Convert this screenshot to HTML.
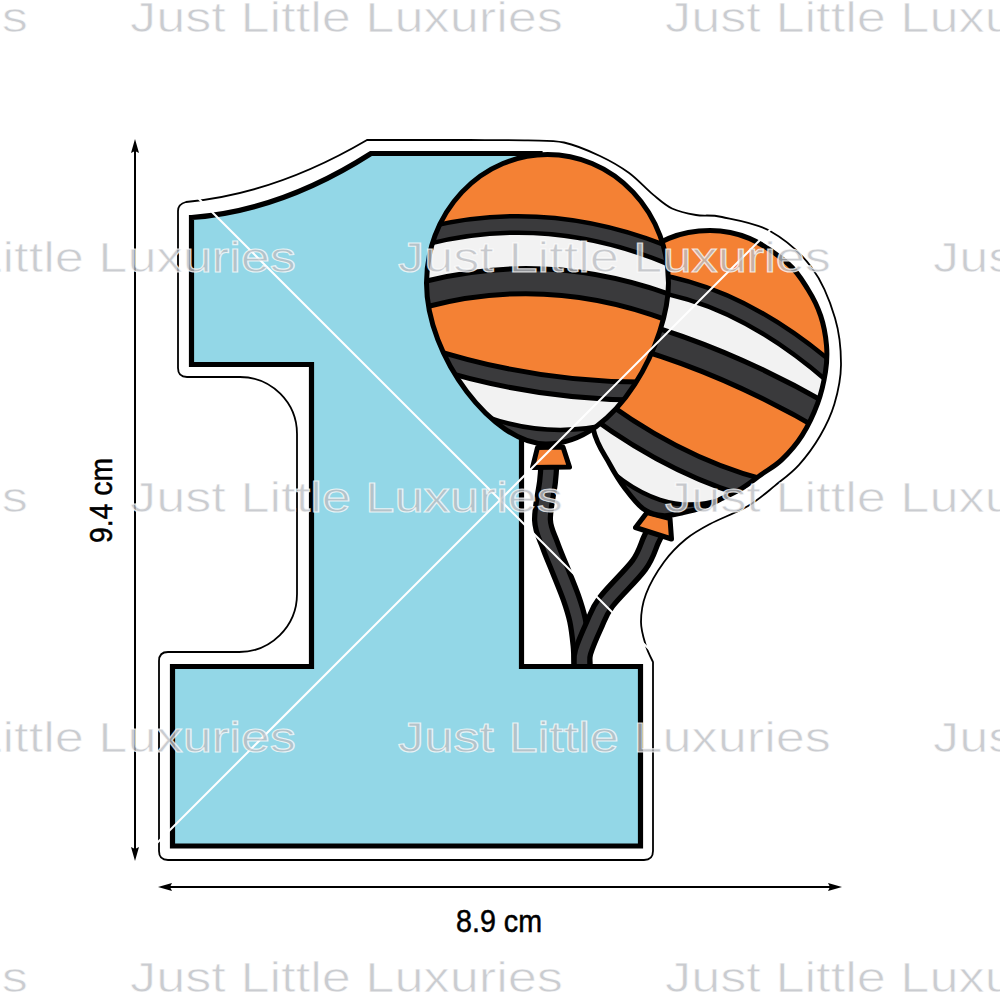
<!DOCTYPE html>
<html><head><meta charset="utf-8">
<style>
html,body{margin:0;padding:0;background:#fff;width:1000px;height:1000px;overflow:hidden}
svg{display:block}
</style></head>
<body>
<svg width="1000" height="1000" viewBox="0 0 1000 1000">
<defs>
<clipPath id="b1c"><path d="M426.5,283 A121,128.5 0 0 1 668.5,283 C668.5,338.9 619.2,444 546,444 C493.9,444 426.5,357.7 426.5,283 Z"/></clipPath>
<clipPath id="b2c"><path d="M683.5,512.5 C689.9,511.2 695.1,510.2 701.2,508.0 C707.3,505.8 713.2,502.7 719.9,499.5 C726.6,496.3 734.5,492.7 741.4,488.6 C748.2,484.5 754.3,479.5 761.0,474.7 C767.7,469.9 774.8,466.4 781.6,459.9 C788.5,453.3 796.1,444.9 802.1,435.4 C808.1,425.9 813.8,413.7 817.7,403.1 C821.6,392.5 824.0,381.3 825.5,371.7 C827.0,362.1 827.3,354.6 826.5,345.3 C825.7,336.0 823.8,325.2 820.7,315.9 C817.6,306.6 813.4,298.1 808.0,289.5 C802.6,280.9 798.2,272.5 788.4,264.0 C778.6,255.5 762.4,244.0 749.3,238.4 C736.2,232.8 723.4,230.5 710.0,230.5 C696.6,230.5 681.9,232.8 668.8,238.4 C655.7,244.0 642.7,251.8 631.6,263.9 C620.5,276.0 609.1,293.4 602.3,311.0 C595.4,328.6 592.0,350.2 590.5,369.8 C589.0,389.4 590.0,413.0 593.2,428.7 C596.4,444.4 604.4,454.2 609.8,464.2 C615.2,474.2 619.8,481.5 625.4,488.9 C631.0,496.3 636.9,504.2 643.1,508.7 C649.3,513.1 656.1,515.0 662.8,515.6 C669.5,516.2 677.1,513.8 683.5,512.5 Z"/></clipPath>
</defs>
<rect width="1000" height="1000" fill="#fff"/>
<!-- cutter outline -->
<path d="M178,368 L178,211 Q178,204 186,202 Q275,194 367,140 L470,140 C479.7,140.1 512.3,140.0 528.0,140.4 C543.7,140.8 552.0,139.9 564.0,142.5 C576.0,145.1 589.2,150.9 600.0,156.0 C610.8,161.1 620.0,166.4 628.8,172.8 C637.6,179.2 645.6,188.5 652.8,194.4 C660.0,200.3 664.8,205.1 672.0,208.5 C679.2,211.9 687.7,213.6 696.0,215.0 C704.3,216.4 709.7,214.3 722.0,217.0 C734.3,219.7 755.0,222.5 770.0,231.0 C785.0,239.5 801.2,253.5 812.0,268.0 C822.8,282.5 830.2,301.8 835.0,318.0 C839.8,334.2 841.1,350.7 841.0,365.0 C840.9,379.3 837.9,392.2 834.4,404.0 C830.9,415.8 825.9,425.9 820.0,436.0 C814.1,446.1 806.5,456.5 799.0,464.8 C791.5,473.1 783.5,478.7 775.0,485.6 C766.5,492.5 758.8,499.6 748.0,506.0 C737.2,512.4 720.3,518.5 710.0,524.0 C699.7,529.5 693.7,532.7 686.0,539.0 C678.3,545.3 670.7,552.8 664.0,562.0 C657.3,571.2 649.8,584.0 646.0,594.0 C642.2,604.0 641.0,613.3 641.0,622.0 C641.0,630.7 644.0,639.3 646.0,646.0 C648.0,652.7 651.8,659.3 653.0,662.0 L653,851 Q653,860 644,860 L168,860 Q159,860 159,851 L159,661 Q159,652 168,652 L238,652 A58,58 0 0 0 297,594 L297,434 A57,57 0 0 0 240,377 L187,377 Q178,377 178,368 Z" fill="#fff" stroke="#000" stroke-width="1.8"/>
<!-- number 1 -->
<path d="M191.5,217.5 Q281,211 371,153.5 L540,153.5 L540,300 L521.5,300 L521.5,666.5 L640.5,666.5 L640.5,846 L172.5,846 L172.5,666.5 L311.5,666.5 L311.5,364.5 L191.5,364.5 Z" fill="#93d7e7" stroke="#000" stroke-width="5.2"/>
<!-- strings -->
<g fill="none">
<path d="M549.0,462.0 C548.8,465.3 548.6,472.3 547.5,482.0 C546.4,491.7 542.1,509.5 542.5,520.0 C542.9,530.5 547.1,536.7 550.0,545.0 C552.9,553.3 556.5,561.2 560.0,570.0 C563.5,578.8 568.1,589.7 571.0,598.0 C573.9,606.3 575.8,612.2 577.5,620.0 C579.2,627.8 580.2,637.2 581.0,645.0 C581.8,652.8 581.8,663.3 582.0,667.0" stroke="#000" stroke-width="21"/>
<path d="M549.0,462.0 C548.8,465.3 548.6,472.3 547.5,482.0 C546.4,491.7 542.1,509.5 542.5,520.0 C542.9,530.5 547.1,536.7 550.0,545.0 C552.9,553.3 556.5,561.2 560.0,570.0 C563.5,578.8 568.1,589.7 571.0,598.0 C573.9,606.3 575.8,612.2 577.5,620.0 C579.2,627.8 580.2,637.2 581.0,645.0 C581.8,652.8 581.8,663.3 582.0,667.0" stroke="#3a3a3c" stroke-width="10.5"/>
<path d="M655.0,532.0 C654.3,533.3 653.7,534.5 651.0,540.0 C648.3,545.5 646.5,554.7 639.0,565.0 C631.5,575.3 613.5,592.0 606.0,602.0 C598.5,612.0 597.8,616.7 594.0,625.0 C590.2,633.3 585.0,645.5 583.0,652.0 C581.0,658.5 582.2,661.5 582.0,664.0 C581.8,666.5 582.0,666.5 582.0,667.0" stroke="#000" stroke-width="21"/>
<path d="M655.0,532.0 C654.3,533.3 653.7,534.5 651.0,540.0 C648.3,545.5 646.5,554.7 639.0,565.0 C631.5,575.3 613.5,592.0 606.0,602.0 C598.5,612.0 597.8,616.7 594.0,625.0 C590.2,633.3 585.0,645.5 583.0,652.0 C581.0,658.5 582.2,661.5 582.0,664.0 C581.8,666.5 582.0,666.5 582.0,667.0" stroke="#3a3a3c" stroke-width="10.5"/>
</g>

<path d="M519,666.5 L640.5,666.5" stroke="#000" stroke-width="5.2"/>
<!-- knots -->
<path d="M537.5,447.5 L563,447 L569.5,467 L532.5,467.5 Z" fill="#f48134" stroke="#000" stroke-width="5" stroke-linejoin="round"/>
<path d="M647,512.5 L670,518.5 L671.5,539 L635.5,527.5 Z" fill="#f48134" stroke="#000" stroke-width="5" stroke-linejoin="round"/>
<!-- balloon 2 -->
<g clip-path="url(#b2c)"><rect x="560" y="200" width="300" height="360" fill="#f48134"/><path d="M600.0,279.9 Q730.0,272.8 860.0,399.6 L860.0,438.6 Q730.0,356.1 600.0,325.6 Z" fill="#f2f2f2"/><path d="M560.0,379.2 Q710.0,505.1 860.0,501.1 L860,560 L560,560 Z" fill="#f2f2f2"/><path d="M560.0,414.2 Q660.0,553.4000000000001 760.0,478.3 L760,560 L560,560 Z" fill="#3a3a3c" stroke="#000" stroke-width="4.5"/><path d="M600.0,279.9 Q730.0,272.8 860.0,399.6" stroke="#000" stroke-width="22" fill="none"/><path d="M600.0,279.9 Q730.0,272.8 860.0,399.6" stroke="#3a3a3c" stroke-width="13" fill="none"/><path d="M600.0,325.6 Q730.0,356.1 860.0,438.6" stroke="#000" stroke-width="31" fill="none"/><path d="M600.0,325.6 Q730.0,356.1 860.0,438.6" stroke="#3a3a3c" stroke-width="21" fill="none"/><path d="M560.0,379.2 Q710.0,505.1 860.0,501.1" stroke="#000" stroke-width="26" fill="none"/><path d="M560.0,379.2 Q710.0,505.1 860.0,501.1" stroke="#3a3a3c" stroke-width="16" fill="none"/></g>
<path d="M683.5,512.5 C689.9,511.2 695.1,510.2 701.2,508.0 C707.3,505.8 713.2,502.7 719.9,499.5 C726.6,496.3 734.5,492.7 741.4,488.6 C748.2,484.5 754.3,479.5 761.0,474.7 C767.7,469.9 774.8,466.4 781.6,459.9 C788.5,453.3 796.1,444.9 802.1,435.4 C808.1,425.9 813.8,413.7 817.7,403.1 C821.6,392.5 824.0,381.3 825.5,371.7 C827.0,362.1 827.3,354.6 826.5,345.3 C825.7,336.0 823.8,325.2 820.7,315.9 C817.6,306.6 813.4,298.1 808.0,289.5 C802.6,280.9 798.2,272.5 788.4,264.0 C778.6,255.5 762.4,244.0 749.3,238.4 C736.2,232.8 723.4,230.5 710.0,230.5 C696.6,230.5 681.9,232.8 668.8,238.4 C655.7,244.0 642.7,251.8 631.6,263.9 C620.5,276.0 609.1,293.4 602.3,311.0 C595.4,328.6 592.0,350.2 590.5,369.8 C589.0,389.4 590.0,413.0 593.2,428.7 C596.4,444.4 604.4,454.2 609.8,464.2 C615.2,474.2 619.8,481.5 625.4,488.9 C631.0,496.3 636.9,504.2 643.1,508.7 C649.3,513.1 656.1,515.0 662.8,515.6 C669.5,516.2 677.1,513.8 683.5,512.5 Z" fill="none" stroke="#000" stroke-width="5"/>
<!-- balloon 1 -->
<g clip-path="url(#b1c)"><rect x="400" y="140" width="300" height="320" fill="#f48134"/><path d="M400.0,243.5 Q550.0,195.1 700.0,269.7 L700.0,320.1 Q550.0,252.9 400.0,301.5 Z" fill="#f2f2f2"/><path d="M400.0,347.9 Q550.0,401.7 700.0,388.3 L700,480 L400,480 Z" fill="#f2f2f2"/><path d="M420.0,382.59999999999997 Q550.0,470.2 680.0,395.59999999999997 L680,480 L420,480 Z" fill="#3a3a3c" stroke="#000" stroke-width="4.5"/><path d="M400.0,243.5 Q550.0,195.1 700.0,269.7" stroke="#000" stroke-width="21" fill="none"/><path d="M400.0,243.5 Q550.0,195.1 700.0,269.7" stroke="#3a3a3c" stroke-width="12" fill="none"/><path d="M400.0,301.5 Q550.0,252.9 700.0,320.1" stroke="#000" stroke-width="30" fill="none"/><path d="M400.0,301.5 Q550.0,252.9 700.0,320.1" stroke="#3a3a3c" stroke-width="20" fill="none"/><path d="M400.0,347.9 Q550.0,401.7 700.0,388.3" stroke="#000" stroke-width="23" fill="none"/><path d="M400.0,347.9 Q550.0,401.7 700.0,388.3" stroke="#3a3a3c" stroke-width="13" fill="none"/></g>
<path d="M426.5,283 A121,128.5 0 0 1 668.5,283 C668.5,338.9 619.2,444 546,444 C493.9,444 426.5,357.7 426.5,283 Z" fill="none" stroke="#000" stroke-width="5"/>
<!-- dimension arrows -->
<g stroke="#000" fill="#000">
<line x1="135" y1="148" x2="135" y2="852" stroke-width="2"/>
<path d="M135,139 L139,153 L135,151 L131,153 Z" stroke="none"/>
<path d="M135,861 L139,847 L135,849 L131,847 Z" stroke="none"/>
<line x1="166" y1="887" x2="834" y2="887" stroke-width="2"/>
<path d="M158,887 L172,883 L170,887 L172,891 Z" stroke="none"/>
<path d="M842,887 L828,883 L830,887 L828,891 Z" stroke="none"/>
</g>
<g font-family="Liberation Sans, sans-serif" font-size="30.5" fill="#000" stroke="#000" stroke-width="0.5">
<text x="456" y="932" textLength="86" lengthAdjust="spacingAndGlyphs">8.9 cm</text>
<text transform="translate(111.8,543) rotate(-90)" textLength="85" lengthAdjust="spacingAndGlyphs">9.4 cm</text>
</g>
<!-- white X lines -->
<g stroke="#fff" stroke-width="2">
<line x1="0" y1="0" x2="1000" y2="1000"/>
<line x1="0" y1="1000" x2="1000" y2="0"/>
</g>
<!-- watermark -->
<g font-family="Liberation Sans, sans-serif" font-size="42" fill="rgb(188,190,195)" fill-opacity="0.78" stroke="#fff" stroke-opacity="0.75" stroke-width="1.1">
<text x="-405" y="32" textLength="433" lengthAdjust="spacingAndGlyphs">Just Little Luxuries</text>
<text x="130" y="32" textLength="433" lengthAdjust="spacingAndGlyphs">Just Little Luxuries</text>
<text x="665" y="32" textLength="433" lengthAdjust="spacingAndGlyphs">Just Little Luxuries</text>
<text x="-137" y="272" textLength="433" lengthAdjust="spacingAndGlyphs">Just Little Luxuries</text>
<text x="398" y="272" textLength="433" lengthAdjust="spacingAndGlyphs">Just Little Luxuries</text>
<text x="933" y="272" textLength="433" lengthAdjust="spacingAndGlyphs">Just Little Luxuries</text>
<text x="-405" y="512" textLength="433" lengthAdjust="spacingAndGlyphs">Just Little Luxuries</text>
<text x="130" y="512" textLength="433" lengthAdjust="spacingAndGlyphs">Just Little Luxuries</text>
<text x="665" y="512" textLength="433" lengthAdjust="spacingAndGlyphs">Just Little Luxuries</text>
<text x="-137" y="752" textLength="433" lengthAdjust="spacingAndGlyphs">Just Little Luxuries</text>
<text x="398" y="752" textLength="433" lengthAdjust="spacingAndGlyphs">Just Little Luxuries</text>
<text x="933" y="752" textLength="433" lengthAdjust="spacingAndGlyphs">Just Little Luxuries</text>
<text x="-405" y="992" textLength="433" lengthAdjust="spacingAndGlyphs">Just Little Luxuries</text>
<text x="130" y="992" textLength="433" lengthAdjust="spacingAndGlyphs">Just Little Luxuries</text>
<text x="665" y="992" textLength="433" lengthAdjust="spacingAndGlyphs">Just Little Luxuries</text>
</g>
</svg>
</body></html>
